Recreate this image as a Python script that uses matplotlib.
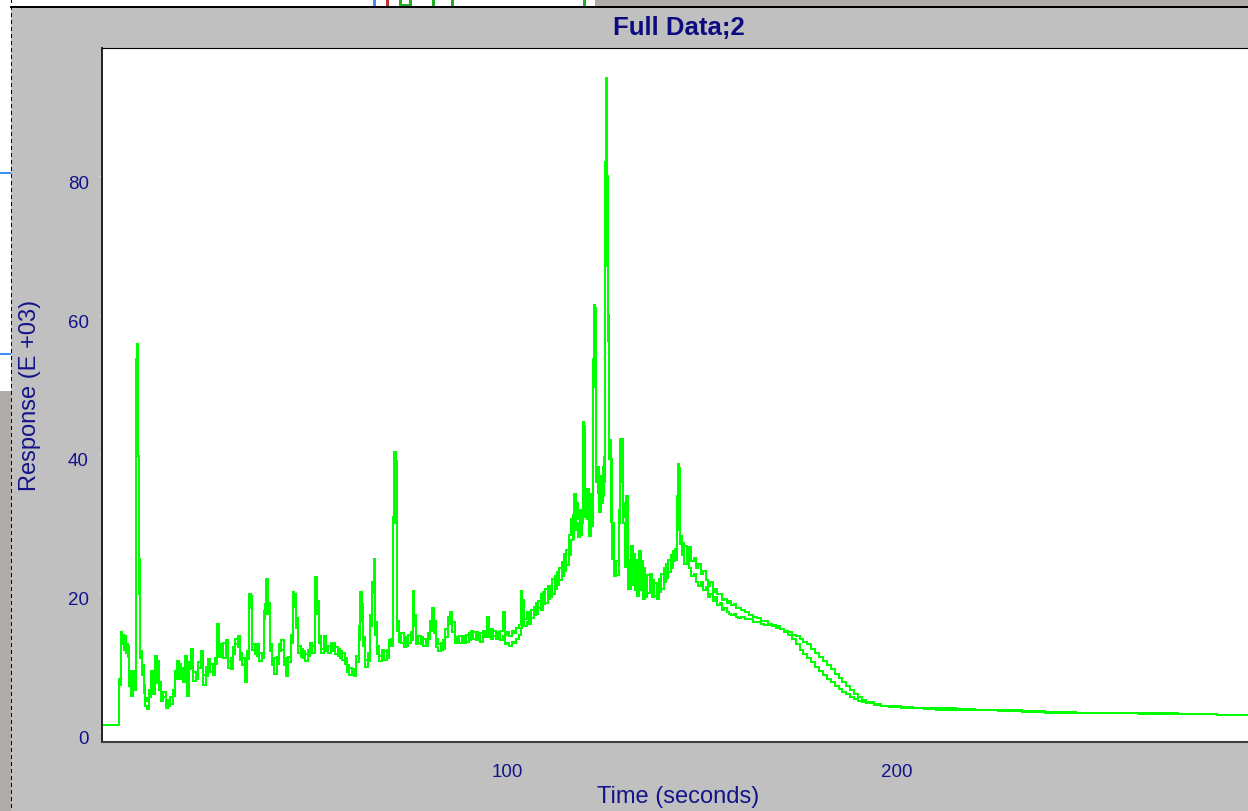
import matplotlib
matplotlib.use("Agg")
import matplotlib.pyplot as plt
from matplotlib.lines import Line2D
from matplotlib.patches import Rectangle
import matplotlib.transforms as mtransforms

# ---------------- data ----------------
time_s = [
    -3.85, 0.55, 0.9, 1.3, 1.8, 2.3, 2.8, 3.2, 3.6, 4.0,
    4.4, 4.85, 5.05, 5.3, 5.55, 5.8, 6.3, 6.8, 7.3, 7.8,
    8.3, 8.8, 9.3, 9.8, 10.3, 10.8, 11.3, 11.9, 12.5, 13.1,
    13.7, 14.3, 14.8, 15.3, 15.9, 16.5, 17.0, 17.5, 18.0, 18.5,
    19.0, 19.6, 20.2, 20.8, 21.5, 22.1, 22.7, 23.3, 23.9, 24.5,
    25.1, 25.7, 26.1, 26.7, 27.3, 27.9, 28.5, 29.1, 29.7, 30.3,
    30.9, 31.5, 32.1, 32.7, 33.3, 33.9, 34.3, 34.7, 35.3, 35.9,
    36.5, 37.1, 37.6, 38.0, 38.3, 38.7, 39.1, 39.7, 40.3, 40.9,
    41.5, 42.1, 42.7, 43.3, 43.9, 44.5, 45.1, 45.5, 46.0, 46.5,
    47.1, 47.7, 48.3, 48.9, 49.5, 50.1, 50.8, 51.3, 51.8, 52.4,
    53.0, 53.6, 54.2, 54.8, 55.4, 56.0, 56.6, 57.2, 57.8, 58.4,
    59.0, 59.6, 60.2, 60.8, 61.4, 62.0, 62.4, 62.7, 63.1, 63.7,
    64.3, 64.9, 65.4, 65.8, 66.2, 66.7, 67.3, 67.9, 68.5, 69.1,
    69.7, 70.3, 70.8, 71.1, 71.5, 71.9, 72.3, 72.9, 73.5, 74.1,
    74.7, 75.3, 75.8, 76.2, 76.7, 77.3, 77.9, 78.5, 79.1, 79.7,
    80.3, 80.8, 81.3, 81.8, 82.4, 83.0, 83.6, 84.2, 84.8, 85.4,
    86.0, 86.6, 87.2, 87.8, 88.4, 89.0, 89.6, 90.2, 90.8, 91.4,
    92.0, 92.6, 93.2, 93.8, 94.4, 94.8, 95.3, 95.9, 96.5, 97.1,
    97.7, 98.3, 98.9, 99.4, 100.0, 100.6, 101.2, 101.8, 102.4, 103.0,
    103.5, 103.9, 104.4, 105.0, 105.6, 106.2, 106.8, 107.4, 108.0, 108.6,
    109.2, 109.8, 110.4, 111.0, 111.6, 112.2, 112.8, 113.4, 114.0, 114.6,
    115.2, 115.8, 116.3, 116.8, 117.3, 117.7, 118.1, 118.6, 119.1, 119.4,
    119.7, 120.1, 120.6, 121.1, 121.6, 122.0, 122.3, 122.6, 122.9, 123.3,
    123.7, 124.1, 124.5, 124.9, 125.2, 125.45, 125.7, 125.95, 126.2, 126.6,
    127.0, 127.5, 128.0, 128.6, 129.0, 129.4, 129.8, 130.2, 130.6, 131.0,
    131.4, 131.8, 132.3, 132.8, 133.3, 133.8, 134.3, 134.8, 135.4, 136.0,
    136.6, 137.2, 137.8, 138.4, 139.0, 139.6, 140.2, 140.8, 141.4, 142.0,
    142.6, 143.1, 143.5, 143.8, 144.1, 144.4, 144.9, 145.5, 146.1, 146.7,
    147.3, 147.9, 148.5, 149.1, 149.7, 150.3, 150.9, 151.5, 152.1, 152.7,
    153.3, 153.9, 154.5, 155.1, 155.7, 156.3, 156.9, 157.5, 158.1, 158.7,
    159.3, 160.0, 161.0, 162.0, 163.0, 164.0, 165.0, 166.0, 167.0, 168.0,
    169.0, 170.0, 171.0, 172.0, 173.0, 174.0, 175.0, 176.0, 177.0, 178.0,
    179.0, 180.0, 181.0, 182.0, 183.0, 184.0, 185.0, 186.0, 187.0, 188.0,
    189.0, 190.0, 191.0, 192.0, 194.0, 196.0, 198.0, 201.0, 204.0, 207.0,
    210.0, 215.0, 220.0, 226.0, 232.0, 238.0, 246.0, 254.0, 262.0, 272.0,
    282.0, 292.0,
]

response_1 = [
    1.0, 7.6, 14.4, 12.6, 13.8, 11.4, 12.4, 6.6, 5.2, 8.8,
    6.0, 53.7, 55.8, 39.7, 19.9, 10.6, 8.2, 5.6, 3.8, 3.3,
    6.0, 7.8, 5.4, 10.9, 7.0, 6.0, 5.0, 5.8, 3.4, 4.6,
    4.0, 6.0, 8.8, 10.2, 7.6, 9.2, 7.2, 10.9, 5.2, 9.0,
    11.9, 7.4, 8.6, 10.0, 11.6, 6.8, 9.4, 10.5, 8.6, 9.2,
    9.8, 15.5, 10.8, 12.6, 10.6, 13.2, 9.2, 10.6, 11.2, 13.4,
    12.2, 11.4, 9.6, 7.2, 10.5, 19.9, 17.8, 12.6, 11.2, 12.6,
    10.2, 11.4, 17.4, 18.4, 22.0, 17.0, 11.6, 10.2, 8.4, 10.8,
    11.6, 13.2, 9.6, 8.0, 10.8, 14.0, 20.1, 18.0, 15.0, 12.4,
    10.8, 11.6, 10.2, 11.8, 12.2, 11.4, 22.3, 17.0, 12.8, 11.4,
    13.8, 11.6, 12.4, 11.6, 12.8, 11.2, 12.0, 10.6, 11.4, 9.8,
    8.6, 9.2, 8.2, 8.6, 10.0, 15.3, 20.1, 16.0, 12.4, 9.4,
    11.4, 16.8, 21.6, 24.9, 14.0, 11.2, 10.2, 11.8, 10.4, 11.8,
    12.6, 13.4, 31.0, 40.3, 30.0, 16.0, 13.0, 14.2, 12.2, 13.6,
    12.8, 14.4, 20.3, 15.2, 12.6, 13.8, 12.6, 13.4, 12.4, 14.2,
    16.0, 17.8, 14.2, 12.2, 11.6, 12.8, 12.0, 14.8, 16.6, 17.2,
    14.4, 12.8, 13.6, 12.8, 13.8, 12.8, 14.0, 13.2, 14.6, 13.4,
    14.4, 13.2, 14.2, 13.6, 14.4, 16.6, 13.6, 14.8, 13.8, 14.4,
    13.8, 14.6, 17.2, 14.0, 14.4, 13.8, 14.6, 14.2, 15.0, 15.4,
    20.3, 17.6, 16.2, 17.2, 15.6, 17.6, 16.8, 18.6, 17.8, 19.8,
    18.4, 20.6, 19.2, 21.0, 19.8, 22.4, 21.2, 23.6, 22.4, 25.6,
    24.0, 28.4, 30.6, 27.8, 34.2, 30.0, 28.0, 32.0, 30.0, 44.6,
    36.8, 31.0, 35.0, 28.2, 33.6, 49.6, 61.4, 59.0, 36.0, 38.2,
    31.6, 36.8, 34.0, 39.6, 82.0, 94.1, 67.0, 56.3, 39.3, 30.2,
    24.9, 22.4, 24.6, 30.0, 42.2, 36.4, 30.0, 23.8, 34.0, 22.0,
    20.6, 26.8, 21.2, 24.8, 19.6, 26.0, 20.4, 23.6, 19.4, 22.6,
    20.6, 21.8, 19.6, 21.4, 20.2, 22.8, 21.6, 24.2, 23.0, 25.4,
    24.6, 26.4, 34.0, 38.6, 33.0, 27.0, 25.4, 26.8, 25.0, 26.6,
    24.6, 25.0, 23.6, 24.2, 22.8, 23.2, 21.8, 21.0, 21.6, 20.2,
    20.6, 19.8, 19.8, 19.0, 19.2, 18.6, 18.8, 18.2, 18.4, 17.8,
    17.9, 17.6, 17.2, 16.8, 16.6, 16.4, 16.0, 16.0, 15.6, 15.4,
    15.2, 14.8, 14.4, 14.0, 13.4, 12.6, 11.8, 11.2, 10.6, 10.0,
    9.4, 8.8, 8.2, 7.6, 7.2, 6.6, 6.2, 5.8, 5.4, 5.0,
    4.8, 4.5, 4.3, 4.1, 3.9, 3.8, 3.6, 3.5, 3.4, 3.3,
    3.2, 3.2, 3.1, 3.0, 2.9, 2.8, 2.8, 2.7, 2.6, 2.6,
    2.5, 2.5,
]

response_2 = [
    1.0, 6.8, 13.2, 14.0, 11.8, 12.6, 10.8, 8.8, 6.2, 7.4,
    8.6, 40.0, 53.0, 39.7, 24.9, 11.6, 9.6, 6.8, 4.9, 4.4,
    5.0, 8.8, 6.6, 8.2, 10.2, 7.2, 4.4, 5.0, 4.6, 3.8,
    5.0, 5.2, 7.6, 9.0, 9.8, 8.0, 8.6, 9.8, 6.4, 10.0,
    11.0, 8.6, 7.6, 9.2, 10.4, 8.2, 8.0, 9.6, 9.8, 8.2,
    10.6, 14.0, 12.0, 11.0, 12.8, 12.0, 10.2, 9.0, 12.2, 12.6,
    13.8, 10.4, 10.6, 8.4, 11.6, 18.0, 19.6, 11.8, 12.4, 11.0,
    11.4, 10.6, 16.2, 17.0, 20.4, 18.6, 12.6, 9.6, 10.6, 9.8,
    12.6, 11.8, 10.6, 9.2, 10.0, 12.8, 18.6, 19.8, 16.4, 11.4,
    12.0, 10.6, 11.2, 11.0, 12.8, 12.4, 20.5, 18.8, 13.8, 12.0,
    12.8, 12.4, 11.4, 12.8, 12.0, 12.2, 11.0, 11.6, 10.4, 10.6,
    9.6, 8.2, 9.0, 8.0, 11.0, 13.2, 18.0, 18.4, 13.6, 10.4,
    10.2, 15.2, 20.0, 23.0, 15.8, 12.4, 11.0, 10.8, 11.6, 10.6,
    13.2, 12.4, 30.0, 31.0, 39.0, 14.5, 14.2, 12.8, 13.4, 12.4,
    14.0, 13.2, 18.5, 16.8, 13.6, 12.8, 13.6, 12.4, 13.4, 13.4,
    14.6, 17.0, 16.0, 13.4, 12.6, 11.8, 13.2, 13.6, 15.6, 16.6,
    15.8, 13.6, 12.8, 13.8, 12.8, 13.8, 13.0, 14.2, 13.4, 14.4,
    13.2, 14.2, 13.0, 14.6, 13.6, 14.2, 14.4, 13.4, 14.6, 13.4,
    14.2, 13.2, 13.8, 12.6, 12.8, 12.4, 13.0, 12.8, 13.4, 14.0,
    15.0, 19.0, 15.2, 15.8, 16.8, 16.4, 18.0, 17.0, 18.8, 17.6,
    20.2, 18.6, 21.0, 19.4, 22.0, 20.6, 23.0, 21.8, 24.4, 23.2,
    26.2, 25.4, 27.6, 31.2, 29.0, 33.0, 30.6, 28.4, 31.6, 38.0,
    44.0, 33.4, 30.6, 34.2, 29.6, 53.6, 59.1, 61.0, 38.0, 34.4,
    36.4, 33.0, 38.2, 36.0, 67.0, 82.0, 80.0, 60.0, 42.0, 39.3,
    30.0, 24.0, 22.6, 32.0, 36.0, 42.2, 33.0, 31.0, 26.0, 20.6,
    24.8, 22.0, 25.6, 20.4, 23.4, 21.6, 24.6, 19.1, 22.4, 20.0,
    22.8, 19.4, 21.4, 19.2, 22.0, 20.6, 23.6, 22.2, 24.8, 23.6,
    26.0, 24.8, 29.0, 34.0, 38.0, 28.2, 27.2, 24.2, 26.6, 23.6,
    22.4, 22.8, 21.6, 21.0, 21.6, 20.4, 20.8, 19.4, 19.8, 18.8,
    19.4, 18.2, 18.6, 17.6, 17.8, 17.2, 17.0, 16.8, 17.0, 16.6,
    16.4, 16.5, 16.2, 16.2, 15.8, 15.8, 15.6, 15.4, 15.4, 15.2,
    15.0, 14.8, 14.6, 14.4, 14.0, 13.8, 13.4, 13.0, 12.6, 12.0,
    11.4, 10.8, 10.2, 9.6, 9.0, 8.4, 7.8, 7.2, 6.6, 6.0,
    5.4, 5.0, 4.6, 4.3, 4.0, 3.8, 3.7, 3.6, 3.5, 3.5,
    3.4, 3.3, 3.2, 3.1, 3.0, 2.9, 2.8, 2.7, 2.7, 2.6,
    2.5, 2.5,
]

x_ticks = [100, 200]
y_ticks = [0, 20, 40, 60, 80]
title_text = "Full Data;2"
x_label = "Time (seconds)"
y_label = "Response (E +03)"

assert len(time_s) == len(response_1) == len(response_2)

# ---------------- figure ----------------
W, H = 1248, 812
plt.rcParams["font.family"] = ["Liberation Sans", "DejaVu Sans"]
fig = plt.figure(figsize=(W / 100, H / 100), dpi=100)
fig.patch.set_facecolor("#c0c0c0")

def fx(x):
    return x / W

def fy(y):
    return 1 - y / H

def rect(x0, y0, x1, y1, color):
    fig.patches.append(Rectangle((fx(x0), fy(y1)), fx(x1) - fx(x0), fy(y0) - fy(y1),
                                 transform=fig.transFigure, facecolor=color,
                                 edgecolor="none", zorder=1))

def hline(y, x0, x1, color, lw=1.0, **kw):
    fig.add_artist(Line2D([fx(x0), fx(x1)], [fy(y), fy(y)], transform=fig.transFigure,
                          color=color, lw=lw, antialiased=False, **kw))

def vline(x, y0, y1, color, lw=1.0, **kw):
    fig.add_artist(Line2D([fx(x), fx(x)], [fy(y0), fy(y1)], transform=fig.transFigure,
                          color=color, lw=lw, antialiased=False, **kw))

# surrounding screen fragments
rect(0, 0, 11, 392, "white")
rect(0, 392, 11, H, "#b1aca8")
rect(11, 0, 595, 7.5, "white")
rect(595, 0, W, 7.5, "#b1aca8")
hline(174, 0, 10, "#3d8ef5", lw=1.2)
hline(355, 0, 10, "#3d8ef5", lw=1.2)
vline(374, 0, 7, "#3d8ef5", lw=1.0)
vline(387, 0, 7, "#c03030", lw=1.0)
vline(400, 0, 6, "#22b022", lw=1.0)
hline(6, 400, 410, "#22b022", lw=1.0)
vline(410, 0, 3, "#22b022", lw=1.0)
vline(433, 0, 6, "#22b022", lw=1.0)
vline(452, 0, 6, "#22b022", lw=1.0)
vline(584, 0, 7, "#22b022", lw=1.0)
hline(7.5, 11, W, "black", lw=1.2)
vline(10.5, 0, H, "black", lw=0.9, linestyle=(0, (2.5, 2.5)))

# plot area
left, right, top, bottom = 102, 1256, 49, 742.5
ax = fig.add_axes([fx(left), fy(bottom), (right - left) / W, (bottom - top) / H])
ax.set_facecolor("white")

for series in (response_2, response_1):
    ax.step(time_s, series, where="post", color="#00ff00", lw=1.15, antialiased=False)

ax.set_xlim(-3.85, 292.05)
ax.set_ylim(-1.37, 98.42)
ax.set_xticks(x_ticks)
ax.set_yticks(y_ticks)
ax.set_xticklabels([str(v) for v in x_ticks])
ax.set_yticklabels([str(v) for v in y_ticks])

label_color = "#13138a"
ax.tick_params(axis="y", direction="out", length=2.5, width=0.8, color="#e2e2e2",
               pad=7.0, labelsize=13.5, labelcolor=label_color)
ax.tick_params(axis="x", direction="out", length=0, width=0,
               pad=15.5, labelsize=13.5, labelcolor=label_color)

offset = mtransforms.ScaledTranslation(0, -5 / 100, fig.dpi_scale_trans)
for lab in ax.get_yticklabels():
    lab.set_transform(lab.get_transform() + offset)

ax.spines["left"].set_color("#202020")
ax.spines["left"].set_linewidth(1.4)
ax.spines["bottom"].set_color("#404040")
ax.spines["bottom"].set_linewidth(1.5)
ax.spines["top"].set_color("black")
ax.spines["top"].set_linewidth(0.8)
ax.spines["right"].set_visible(False)

fig.text(fx(679), fy(28), title_text, ha="center", va="center", fontsize=18.5,
         fontweight="bold", color="#0c0c80")
fig.text(fx(678), fy(797), x_label, ha="center", va="center", fontsize=17,
         color=label_color)
fig.text(fx(30), fy(395), y_label, ha="center", va="center", fontsize=17,
         rotation=90, color=label_color)

fig.savefig("out.png", dpi=100, facecolor=fig.get_facecolor())
